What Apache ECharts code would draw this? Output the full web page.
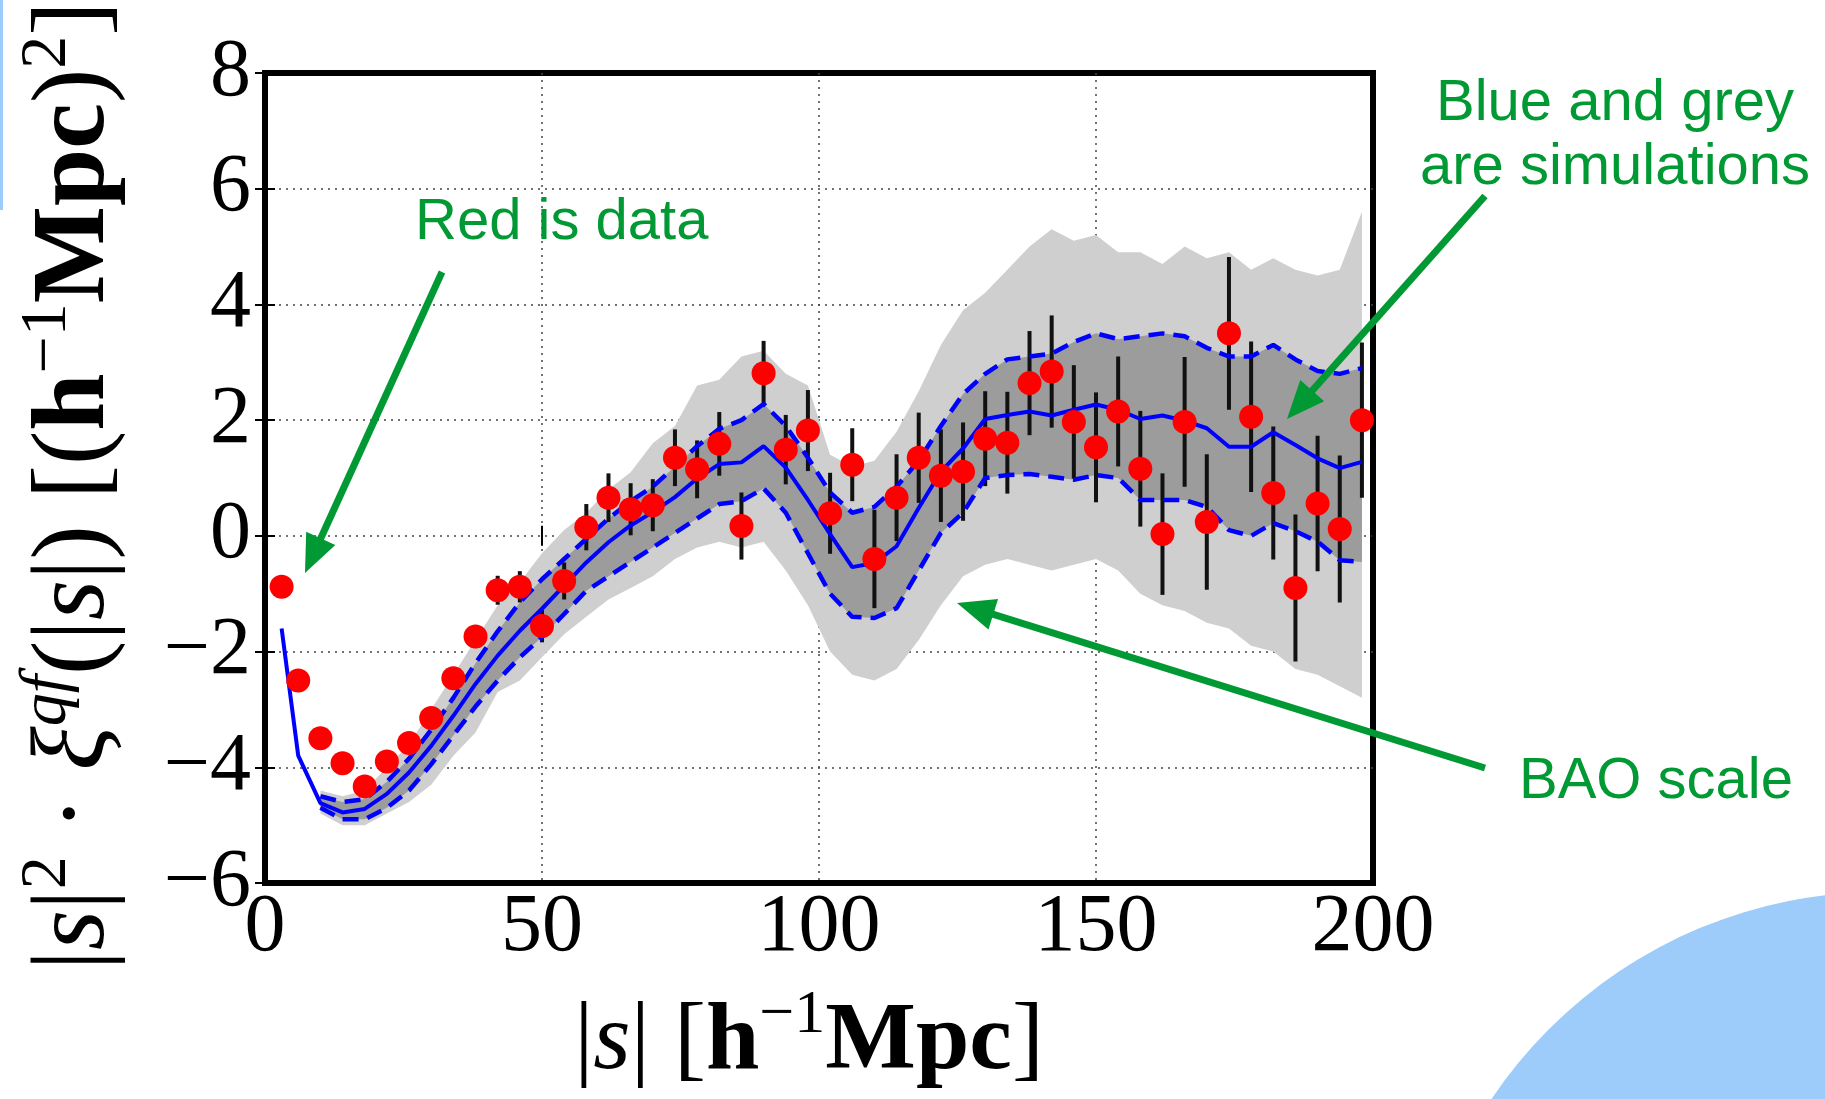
<!DOCTYPE html>
<html>
<head>
<meta charset="utf-8">
<title>Redshift-space correlation function: data vs simulations</title>
<script src="https://cdn.jsdelivr.net/npm/echarts@6.0.0/dist/echarts.min.js"></script>
<style>
  html, body { margin: 0; padding: 0; background: #fff; }
  #chart { width: 1825px; height: 1099px; }
</style>
</head>
<body>
<div id="chart"></div>
<script>
// bin centres |s| [h^-1 Mpc]
const sBins = [3, 6, 10, 14, 18, 22, 26, 30, 34, 38, 42, 46, 50, 54, 58, 62, 66, 70, 74, 78,
  82, 86, 90, 94, 98, 102, 106, 110, 114, 118, 122, 126, 130, 134, 138, 142, 146, 150, 154, 158,
  162, 166, 170, 174, 178, 182, 186, 190, 194, 198]

// measured |s|^2 xi (red points) and their error bars
const dataXi = [-0.88, -2.5, -3.5, -3.93, -4.33, -3.9, -3.58, -3.15, -2.46, -1.74,
  -0.94, -0.88, -1.56, -0.78, 0.15, 0.66, 0.46, 0.53, 1.35, 1.15,
  1.59, 0.17, 2.81, 1.49, 1.82, 0.39, 1.23, -0.4, 0.66, 1.35,
  1.04, 1.11, 1.68, 1.61, 2.64, 2.84, 1.97, 1.53, 2.15, 1.16,
  0.03, 1.97, 0.24, 3.5, 2.06, 0.74, -0.9, 0.56, 0.12, 2.0]
const dataErr = [0.1, 0.1, 0.1, 0.1, 0.12, 0.12, 0.14, 0.15, 0.17, 0.2,
  0.25, 0.27, 0.28, 0.32, 0.4, 0.42, 0.45, 0.45, 0.49, 0.5,
  0.55, 0.58, 0.56, 0.6, 0.7, 0.7, 0.63, 0.85, 0.75, 0.78,
  0.8, 0.85, 0.82, 0.88, 0.9, 0.97, 0.98, 0.95, 0.95, 1.0,
  1.05, 1.12, 1.17, 1.32, 1.3, 1.15, 1.27, 1.17, 1.27, 1.34]

// simulation mean (blue solid) and +/- 1 sigma (blue dashed)
const simMean = [-1.6, -3.8, -4.62, -4.78, -4.72, -4.46, -4.09, -3.63, -3.11, -2.56,
  -2.07, -1.64, -1.26, -0.86, -0.46, -0.11, 0.18, 0.41, 0.67, 0.99,
  1.24, 1.27, 1.55, 1.18, 0.62, 0.03, -0.54, -0.47, -0.18, 0.48,
  1.11, 1.51, 2.02, 2.09, 2.15, 2.08, 2.18, 2.27, 2.18, 2.02,
  2.08, 1.99, 1.86, 1.54, 1.54, 1.79, 1.57, 1.34, 1.17, 1.28]
const simUpper = [null, null, -4.5, -4.6, -4.55, -4.25, -3.85, -3.35, -2.8, -2.2,
  -1.65, -1.15, -0.75, -0.4, -0.05, 0.3, 0.6, 0.85, 1.2, 1.55,
  1.85, 2.0, 2.28, 1.9, 1.35, 0.75, 0.4, 0.5, 0.85, 1.3,
  1.9, 2.45, 2.8, 3.05, 3.1, 3.15, 3.35, 3.5, 3.4, 3.45,
  3.5, 3.45, 3.25, 3.1, 3.1, 3.3, 3.05, 2.85, 2.8, 2.9]
const simLower = [null, null, -4.7, -4.9, -4.9, -4.7, -4.4, -3.95, -3.45, -2.95,
  -2.5, -2.1, -1.75, -1.35, -0.95, -0.7, -0.45, -0.2, 0.05, 0.3,
  0.55, 0.6, 0.82, 0.4, -0.3, -1.0, -1.4, -1.42, -1.25, -0.6,
  0.05, 0.4, 1.0, 1.05, 1.07, 1.02, 0.97, 1.05, 1.0, 0.62,
  0.62, 0.62, 0.5, 0.1, 0.0, 0.22, 0.08, -0.1, -0.42, -0.45]

// extent of the grey simulation curves
const envHigh = [null, null, -4.4, -4.5, -4.4, -4.0, -3.6, -3.0, -2.4, -1.8,
  -1.2, -0.8, -0.3, 0.1, 0.4, 0.8, 1.1, 1.6, 1.9, 2.6,
  2.7, 3.1, 3.2, 2.8, 2.6, 1.4, 1.2, 1.3, 1.8, 2.5,
  3.3, 3.9, 4.2, 4.6, 5.0, 5.3, 5.1, 5.2, 4.9, 4.9,
  4.7, 5.0, 4.8, 4.9, 4.6, 4.8, 4.6, 4.5, 4.6, 5.6]
const envLow = [null, null, -4.8, -5.0, -5.0, -4.8, -4.6, -4.3, -3.8, -3.4,
  -2.7, -2.5, -2.1, -1.7, -1.4, -1.1, -0.9, -0.7, -0.4, -0.2,
  -0.1, -0.2, -0.1, -0.6, -1.2, -2.0, -2.4, -2.5, -2.3, -1.8,
  -1.2, -0.7, -0.5, -0.4, -0.5, -0.6, -0.5, -0.4, -0.6, -1.0,
  -1.2, -1.3, -1.5, -1.6, -1.9, -2.0, -2.3, -2.4, -2.6, -2.8]

const xTicks = [0, 50, 100, 150, 200]
const yTicks = [-6, -4, -2, 0, 2, 4, 6, 8]

const GREEN = '#009933'
const SERIF = 'Liberation Serif'

const pairs = ys => sBins.map((x, i) => [x, ys[i]])

// filled band between two curves, drawn as one polygon through the axes
function band(name, hi, lo, color, z) {
  const rows = sBins.map((x, i) => [x, lo[i], hi[i]]).filter(r => r[1] != null && r[2] != null)
  return {
    name: name, type: 'custom', z: z, silent: true,
    data: rows, encode: { x: 0, y: [1, 2] },
    renderItem: function (params, api) {
      if (params.dataIndex !== 0) return null
      const top = rows.map(r => api.coord([r[0], r[2]]))
      const bottom = rows.map(r => api.coord([r[0], r[1]])).reverse()
      return { type: 'polygon', shape: { points: top.concat(bottom) }, style: { fill: color } }
    }
  }
}

function arrow(sx, sy, tx, ty) {
  const len = Math.hypot(tx - sx, ty - sy)
  const dx = (tx - sx) / len, dy = (ty - sy) / len
  const L = 38, W = 16
  const bx = tx - dx * L, by = ty - dy * L
  return [
    { type: 'line', z: 100, shape: { x1: sx, y1: sy, x2: bx + dx * 4, y2: by + dy * 4 },
      style: { stroke: GREEN, lineWidth: 7 } },
    { type: 'polygon', z: 100, shape: { points: [[tx, ty], [bx - dy * W, by + dx * W], [bx + dy * W, by - dx * W]] },
      style: { fill: GREEN } }
  ]
}

const chart = echarts.init(document.getElementById('chart'), null, { renderer: 'canvas' })

const tickLabel = v => v < 0 ? '\u2212' + Math.abs(v) : String(v)

const option = {
  animation: false,
  backgroundColor: '#fff',
  grid: {
    left: 265, right: 452, top: 73, bottom: 216,
    show: true, borderColor: '#000', borderWidth: 6, backgroundColor: '#fff',
    containLabel: false, outerBoundsMode: 'none'
  },
  xAxis: [{
    type: 'value', min: xTicks[0], max: xTicks[xTicks.length - 1], interval: 50,
    axisLine: { show: false },
    axisTick: { show: true, inside: true, length: 10, lineStyle: { color: '#000', width: 2 } },
    axisLabel: { show: true, color: '#000', fontFamily: SERIF, fontSize: 82, margin: 4,
      showMinLabel: true, showMaxLabel: true, formatter: tickLabel },
    splitLine: { show: true, showMinLine: false, showMaxLine: false,
      lineStyle: { color: '#444', width: 1.5, type: [2, 5] } }
  }, {
    type: 'value', position: 'top', min: xTicks[0], max: xTicks[xTicks.length - 1], interval: 50,
    axisLine: { show: false },
    axisTick: { show: true, inside: true, length: 10, lineStyle: { color: '#000', width: 2 } },
    axisLabel: { show: false }, splitLine: { show: false }
  }],
  yAxis: [{
    type: 'value', min: yTicks[0], max: yTicks[yTicks.length - 1], interval: 2,
    axisLine: { show: false },
    axisTick: { show: true, inside: true, length: 10, lineStyle: { color: '#000', width: 2 } },
    axisLabel: { show: true, color: '#000', fontFamily: SERIF, fontSize: 82, margin: 14,
      showMinLabel: true, showMaxLabel: true, formatter: tickLabel },
    splitLine: { show: true, showMinLine: false, showMaxLine: false,
      lineStyle: { color: '#444', width: 1.5, type: [2, 5] } }
  }, {
    type: 'value', position: 'right', min: yTicks[0], max: yTicks[yTicks.length - 1], interval: 2,
    axisLine: { show: false },
    axisTick: { show: true, inside: true, length: 10, lineStyle: { color: '#000', width: 2 } },
    axisLabel: { show: false }, splitLine: { show: false }
  }],
  series: [
    // grey simulation spread: light outer envelope, darker core
    band('envelope', envHigh, envLow, '#cfcfcf', 1),
    band('core', simUpper, simLower, '#9c9c9c', 2),
    // error bars on data
    {
      name: 'errors', type: 'custom', z: 3, silent: true,
      data: sBins.map((x, i) => [x, dataXi[i] - dataErr[i], dataXi[i] + dataErr[i]]),
      encode: { x: 0, y: [1, 2] },
      renderItem: function (params, api) {
        const a = api.coord([api.value(0), api.value(1)])
        const b = api.coord([api.value(0), api.value(2)])
        return { type: 'line', shape: { x1: a[0], y1: a[1], x2: b[0], y2: b[1] },
          style: { stroke: '#111', lineWidth: 4 } }
      }
    },
    { name: 'upper', type: 'line', data: pairs(simUpper), symbol: 'none', z: 4,
      lineStyle: { color: '#0000ff', width: 4.5, type: [16, 9] } },
    { name: 'lower', type: 'line', data: pairs(simLower), symbol: 'none', z: 4,
      lineStyle: { color: '#0000ff', width: 4.5, type: [16, 9] } },
    { name: 'mean', type: 'line', data: pairs(simMean), symbol: 'none', z: 4,
      lineStyle: { color: '#0000ff', width: 4 } },
    { name: 'data', type: 'scatter', data: pairs(dataXi), symbol: 'circle', symbolSize: 24, z: 5,
      itemStyle: { color: '#ff0000', opacity: 1 } }
  ],
  graphic: [
    // slide decorations
    { type: 'circle', z: -1, shape: { cx: 1880, cy: 1360, r: 468 }, style: { fill: '#9dcbfa' } },
    { type: 'rect', z: -1, shape: { x: 0, y: 0, width: 3, height: 210 }, style: { fill: '#9dcbfa' } },
    // axis titles
    {
      type: 'text', x: 76, y: 486, rotation: Math.PI / 2,
      style: {
        text: '{n||}{i|s}{n||}{sup|2}{n| \u00b7 }{i|\u03be}{supi|qf}{n|(|}{i|s}{n||) [(}{b|h}{sup|\u22121}{b|Mpc}{n|)}{sup|2}{n|]}',
        align: 'center', verticalAlign: 'middle',
        rich: {
          n: { fontFamily: SERIF, fontSize: 103, lineHeight: 122, fill: '#000' },
          i: { fontFamily: SERIF, fontSize: 103, fontStyle: 'italic', lineHeight: 122, fill: '#000' },
          b: { fontFamily: SERIF, fontSize: 103, fontWeight: 'bold', lineHeight: 122, fill: '#000' },
          sup: { fontFamily: SERIF, fontSize: 66, lineHeight: 122, verticalAlign: 'top', fill: '#000' },
          supi: { fontFamily: SERIF, fontSize: 66, fontStyle: 'italic', lineHeight: 122, verticalAlign: 'top', fill: '#000' }
        }
      }
    },
    {
      type: 'text', x: 809, y: 1043,
      style: {
        text: '{n||}{i|s}{n|| [}{b|h}{sup|\u22121}{b|Mpc}{n|]}',
        align: 'center', verticalAlign: 'middle',
        rich: {
          n: { fontFamily: SERIF, fontSize: 96, lineHeight: 116, fill: '#000' },
          i: { fontFamily: SERIF, fontSize: 96, fontStyle: 'italic', lineHeight: 116, fill: '#000' },
          b: { fontFamily: SERIF, fontSize: 96, fontWeight: 'bold', lineHeight: 116, fill: '#000' },
          sup: { fontFamily: SERIF, fontSize: 62, lineHeight: 116, verticalAlign: 'top', fill: '#000' }
        }
      }
    },
    // annotations
    { type: 'text', z: 100, x: 415, y: 223, style: { text: 'Red is data', font: '58px "Liberation Sans"', fill: GREEN, align: 'left', verticalAlign: 'middle' } },
    { type: 'text', z: 100, x: 1615, y: 136, style: { text: 'Blue and grey\nare simulations', font: '58px "Liberation Sans"', lineHeight: 64, fill: GREEN, align: 'center', verticalAlign: 'middle' } },
    { type: 'text', z: 100, x: 1519, y: 782, style: { text: 'BAO scale', font: '58px "Liberation Sans"', fill: GREEN, align: 'left', verticalAlign: 'middle' } },
    ...arrow(442, 272, 305, 573),
    ...arrow(1485, 196, 1287, 419),
    ...arrow(1485, 768, 957, 603)
  ]
}

chart.setOption(option)
</script>
</body>
</html>
